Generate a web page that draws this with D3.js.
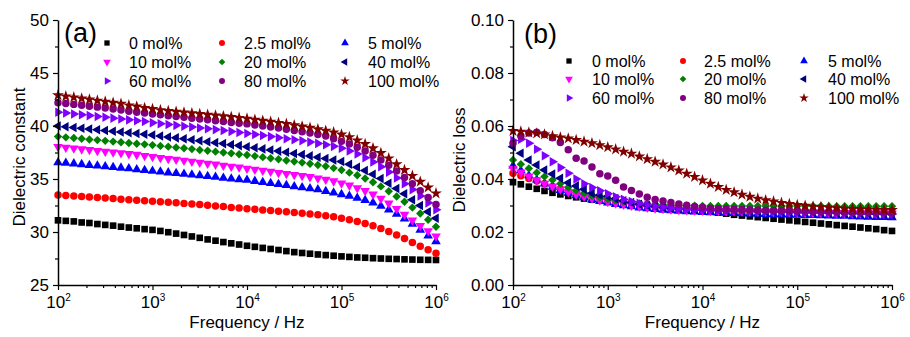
<!DOCTYPE html>
<html>
<head>
<meta charset="utf-8">
<script src="https://cdn.jsdelivr.net/npm/d3@7"></script>
<style>
  body { margin: 0; background: #fff; }
  text { font-family: "Liberation Sans", Arial, sans-serif; fill: #000; }
</style>
</head>
<body>
<div id="chart-wrapper"></div>
<script>

//////////////////////////////////////////////////
/////////////////// Data /////////////////////////
//////////////////////////////////////////////////

// measured frequencies (Hz), 12 points per decade
const freqHz = [100, 121, 147, 178, 215, 261, 316, 383, 464, 562, 681, 825,
  1000, 1212, 1468, 1778, 2154, 2610, 3162, 3831, 4642, 5623, 6813, 8254,
  10000, 12115, 14678, 17783, 21544, 26102, 31623, 38312, 46416, 56234, 68129, 82540,
  100000, 121153, 146780, 177828, 215443, 261016, 316228, 383119, 464159, 562341, 681292, 825404,
  1000000]

const seriesNames = ["0 mol%", "2.5 mol%", "5 mol%", "10 mol%", "20 mol%", "40 mol%", "60 mol%", "80 mol%", "100 mol%"]
const seriesColors = ["#000000", "#ff0000", "#0000ff", "#ff00ff", "#008000", "#000080", "#8000ff", "#800080", "#800000"]
const seriesSymbols = ["square", "circle", "triUp", "triDown", "diamond", "triLeft", "triRight", "circle", "star"]

// (a) dielectric constant
const eps0 = [31.1, 31.05, 31.0, 30.9, 30.85, 30.75, 30.67, 30.6, 30.5, 30.42, 30.35, 30.27,
  30.2, 30.1, 29.98, 29.85, 29.72, 29.58, 29.45, 29.3, 29.18, 29.05, 28.93, 28.82,
  28.7, 28.6, 28.5, 28.4, 28.3, 28.2, 28.1, 28.02, 27.95, 27.88, 27.82, 27.76,
  27.7, 27.65, 27.6, 27.57, 27.53, 27.5, 27.47, 27.45, 27.42, 27.4, 27.38, 27.37, 27.36]
const eps2_5 = [33.5, 33.45, 33.4, 33.35, 33.3, 33.25, 33.2, 33.15, 33.1, 33.05, 33.0, 32.95,
  32.9, 32.85, 32.8, 32.75, 32.7, 32.65, 32.6, 32.52, 32.46, 32.4, 32.32, 32.26,
  32.2, 32.14, 32.08, 32.02, 31.96, 31.9, 31.84, 31.77, 31.7, 31.62, 31.53, 31.43,
  31.3, 31.15, 31.0, 30.8, 30.58, 30.33, 30.05, 29.72, 29.38, 29.02, 28.66, 28.32, 28.0]
const eps5 = [36.55, 36.5, 36.45, 36.38, 36.3, 36.25, 36.18, 36.1, 36.05, 35.98, 35.9, 35.82,
  35.75, 35.68, 35.6, 35.55, 35.48, 35.4, 35.33, 35.25, 35.18, 35.1, 35.03, 34.95,
  34.9, 34.8, 34.7, 34.6, 34.5, 34.4, 34.3, 34.2, 34.1, 34.0, 33.85, 33.7,
  33.55, 33.4, 33.2, 33.0, 32.75, 32.45, 32.1, 31.7, 31.25, 30.75, 30.2, 29.65, 29.1]
const eps10 = [38.05, 37.98, 37.9, 37.82, 37.75, 37.67, 37.6, 37.52, 37.45, 37.37, 37.3, 37.2,
  37.1, 37.0, 36.92, 36.83, 36.75, 36.65, 36.55, 36.47, 36.38, 36.28, 36.18, 36.1,
  36.0, 35.9, 35.8, 35.7, 35.6, 35.5, 35.4, 35.3, 35.2, 35.08, 34.95, 34.8,
  34.6, 34.4, 34.15, 33.9, 33.55, 33.15, 32.7, 32.2, 31.65, 31.1, 30.6, 30.1, 29.6]
const eps20 = [39.0, 38.93, 38.87, 38.8, 38.73, 38.67, 38.6, 38.53, 38.47, 38.4, 38.33, 38.27,
  38.2, 38.12, 38.05, 37.97, 37.9, 37.82, 37.74, 37.66, 37.58, 37.5, 37.42, 37.34,
  37.26, 37.16, 37.06, 36.96, 36.86, 36.75, 36.65, 36.55, 36.44, 36.32, 36.2, 36.03,
  35.85, 35.6, 35.35, 35.05, 34.7, 34.3, 33.85, 33.35, 32.85, 32.3, 31.75, 31.15, 30.5]
const eps40 = [40.0, 39.93, 39.86, 39.79, 39.72, 39.65, 39.58, 39.51, 39.44, 39.37, 39.3, 39.22,
  39.15, 39.06, 38.97, 38.88, 38.79, 38.7, 38.61, 38.52, 38.43, 38.34, 38.24, 38.15,
  38.05, 37.95, 37.84, 37.74, 37.63, 37.52, 37.41, 37.3, 37.18, 37.06, 36.93, 36.8,
  36.65, 36.4, 36.1, 35.8, 35.45, 35.05, 34.6, 34.1, 33.6, 33.05, 32.5, 31.9, 31.3]
const eps60 = [41.3, 41.22, 41.14, 41.06, 40.98, 40.9, 40.82, 40.74, 40.66, 40.58, 40.5, 40.42,
  40.3, 40.22, 40.14, 40.06, 39.98, 39.9, 39.82, 39.74, 39.66, 39.57, 39.48, 39.39,
  39.3, 39.2, 39.1, 39.0, 38.9, 38.8, 38.7, 38.6, 38.48, 38.36, 38.23, 38.08,
  37.9, 37.65, 37.35, 37.0, 36.6, 36.15, 35.65, 35.1, 34.55, 34.0, 33.4, 32.75, 32.1]
const eps80 = [42.2, 42.12, 42.04, 41.96, 41.87, 41.78, 41.69, 41.6, 41.5, 41.4, 41.3, 41.22,
  41.13, 41.05, 40.97, 40.9, 40.82, 40.74, 40.66, 40.58, 40.5, 40.42, 40.34, 40.26,
  40.2, 40.1, 40.0, 39.9, 39.8, 39.7, 39.58, 39.46, 39.34, 39.2, 39.05, 38.8,
  38.55, 38.3, 38.0, 37.65, 37.25, 36.8, 36.3, 35.75, 35.15, 34.55, 33.9, 33.25, 32.6]
const eps100 = [42.9, 42.8, 42.7, 42.6, 42.5, 42.4, 42.3, 42.2, 42.1, 41.95, 41.85, 41.7,
  41.6, 41.5, 41.42, 41.35, 41.28, 41.2, 41.13, 41.06, 41.0, 40.92, 40.85, 40.77,
  40.7, 40.6, 40.5, 40.4, 40.3, 40.2, 40.08, 39.96, 39.84, 39.7, 39.55, 39.4,
  39.2, 38.95, 38.65, 38.3, 37.9, 37.45, 36.95, 36.4, 35.85, 35.3, 34.75, 34.2, 33.65]

// (b) dielectric loss
const loss0 = [0.0388, 0.0380, 0.0371, 0.0363, 0.0355, 0.0348, 0.0342, 0.0336, 0.0331, 0.0326, 0.0322, 0.0318,
  0.0315, 0.0312, 0.0309, 0.0306, 0.0303, 0.0300, 0.0297, 0.0294, 0.0291, 0.0288, 0.0286, 0.0283,
  0.0280, 0.0277, 0.0273, 0.0269, 0.0265, 0.0262, 0.0259, 0.0256, 0.0253, 0.0250, 0.0247, 0.0244,
  0.0241, 0.0238, 0.0235, 0.0232, 0.0229, 0.0226, 0.0223, 0.0220, 0.0217, 0.0214, 0.0211, 0.0207, 0.0204]
const loss2_5 = [0.0422, 0.0412, 0.0402, 0.0392, 0.0382, 0.0372, 0.0363, 0.0355, 0.0348, 0.0341, 0.0335, 0.0329,
  0.0323, 0.0318, 0.0313, 0.0309, 0.0305, 0.0301, 0.0298, 0.0295, 0.0292, 0.0290, 0.0288, 0.0286,
  0.0284, 0.0283, 0.0282, 0.0281, 0.0280, 0.0280, 0.0279, 0.0279, 0.0278, 0.0278, 0.0278, 0.0277,
  0.0277, 0.0277, 0.0276, 0.0276, 0.0276, 0.0276, 0.0275, 0.0275, 0.0275, 0.0275, 0.0275, 0.0275, 0.0275]
const loss5 = [0.0450, 0.0432, 0.0413, 0.0397, 0.0382, 0.0370, 0.0358, 0.0347, 0.0338, 0.0330, 0.0322, 0.0316,
  0.0310, 0.0305, 0.0300, 0.0296, 0.0292, 0.0289, 0.0286, 0.0283, 0.0281, 0.0279, 0.0277, 0.0276,
  0.0275, 0.0274, 0.0273, 0.0272, 0.0271, 0.0270, 0.0269, 0.0268, 0.0267, 0.0266, 0.0266, 0.0265,
  0.0264, 0.0263, 0.0263, 0.0262, 0.0261, 0.0260, 0.0260, 0.0259, 0.0258, 0.0257, 0.0256, 0.0256, 0.0255]
const loss10 = [0.0440, 0.0425, 0.0410, 0.0396, 0.0383, 0.0372, 0.0361, 0.0351, 0.0342, 0.0334, 0.0327, 0.0320,
  0.0314, 0.0309, 0.0304, 0.0300, 0.0296, 0.0293, 0.0290, 0.0288, 0.0286, 0.0284, 0.0283, 0.0282,
  0.0281, 0.0280, 0.0280, 0.0279, 0.0279, 0.0278, 0.0278, 0.0277, 0.0277, 0.0276, 0.0276, 0.0275,
  0.0275, 0.0274, 0.0274, 0.0273, 0.0273, 0.0272, 0.0272, 0.0271, 0.0271, 0.0271, 0.0270, 0.0270, 0.0270]
const loss20 = [0.0472, 0.0456, 0.0440, 0.0424, 0.0409, 0.0396, 0.0382, 0.0369, 0.0357, 0.0346, 0.0337, 0.0330,
  0.0324, 0.0319, 0.0315, 0.0311, 0.0308, 0.0306, 0.0304, 0.0302, 0.0301, 0.0300, 0.0299, 0.0299,
  0.0298, 0.0298, 0.0298, 0.0298, 0.0298, 0.0298, 0.0298, 0.0298, 0.0298, 0.0298, 0.0298, 0.0298,
  0.0298, 0.0298, 0.0298, 0.0298, 0.0297, 0.0297, 0.0297, 0.0297, 0.0297, 0.0297, 0.0297, 0.0297, 0.0297]
const loss40 = [0.0522, 0.0497, 0.0472, 0.0453, 0.0434, 0.0419, 0.0403, 0.0386, 0.0374, 0.0361, 0.0346, 0.0340,
  0.0335, 0.0326, 0.0318, 0.0311, 0.0305, 0.0300, 0.0296, 0.0293, 0.0290, 0.0288, 0.0286, 0.0285,
  0.0284, 0.0283, 0.0282, 0.0281, 0.0280, 0.0280, 0.0279, 0.0278, 0.0278, 0.0277, 0.0276, 0.0276,
  0.0275, 0.0274, 0.0274, 0.0273, 0.0272, 0.0272, 0.0271, 0.0270, 0.0270, 0.0269, 0.0268, 0.0267, 0.0266]
const loss60 = [0.0545, 0.0550, 0.0535, 0.0512, 0.0488, 0.0465, 0.0443, 0.0422, 0.0400, 0.0382, 0.0368, 0.0356,
  0.0344, 0.0333, 0.0323, 0.0315, 0.0308, 0.0302, 0.0297, 0.0293, 0.0290, 0.0287, 0.0285, 0.0283,
  0.0282, 0.0281, 0.0280, 0.0279, 0.0279, 0.0278, 0.0278, 0.0277, 0.0277, 0.0276, 0.0276, 0.0275,
  0.0275, 0.0274, 0.0274, 0.0273, 0.0272, 0.0272, 0.0271, 0.0271, 0.0270, 0.0270, 0.0269, 0.0269, 0.0268]
const loss80 = [0.0535, 0.0562, 0.0574, 0.0576, 0.0568, 0.0556, 0.0538, 0.0510, 0.0478, 0.0468, 0.0445, 0.0420,
  0.0411, 0.0395, 0.0370, 0.0357, 0.0343, 0.0331, 0.0323, 0.0317, 0.0311, 0.0306, 0.0301, 0.0296,
  0.0293, 0.0290, 0.0288, 0.0287, 0.0286, 0.0285, 0.0284, 0.0283, 0.0282, 0.0281, 0.0281, 0.0280,
  0.0279, 0.0279, 0.0278, 0.0277, 0.0277, 0.0276, 0.0275, 0.0275, 0.0274, 0.0274, 0.0273, 0.0273, 0.0272]
const loss100 = [0.0581, 0.0579, 0.0575, 0.0572, 0.0568, 0.0562, 0.0557, 0.0553, 0.0547, 0.0541, 0.0535, 0.0528,
  0.0520, 0.0512, 0.0503, 0.0496, 0.0485, 0.0475, 0.0465, 0.0455, 0.0444, 0.0432, 0.0420, 0.0408,
  0.0395, 0.0382, 0.0370, 0.0359, 0.0350, 0.0341, 0.0333, 0.0326, 0.0320, 0.0315, 0.0310, 0.0306,
  0.0302, 0.0299, 0.0296, 0.0294, 0.0292, 0.0290, 0.0288, 0.0287, 0.0286, 0.0285, 0.0284, 0.0283, 0.0283]

// axis ticks
const freqTicks = [1e2, 1e3, 1e4, 1e5, 1e6]
const freqTickExp = ["2", "3", "4", "5", "6"]
const epsTicks = [25, 30, 35, 40, 45, 50]
const epsMinor = [27.5, 32.5, 37.5, 42.5, 47.5]
const lossTicks = [0.00, 0.02, 0.04, 0.06, 0.08, 0.10]
const lossMinor = [0.01, 0.03, 0.05, 0.07, 0.09]

//////////////////////////////////////////////////
/////////////////// Constants ////////////////////
//////////////////////////////////////////////////

const width = 910
const height = 337
const plotTop = 20
const plotBottom = 285
const fontTick = 17
const fontLegend = 16

const svg = d3.select("#chart-wrapper")
  .append("svg")
    .attr("width", width)
    .attr("height", height)

// symbol path + rotation for each marker kind
const markerShape = (kind, size) => {
  if (kind === "square") return { d: d3.symbol(d3.symbolSquare, size)(), rot: 0 }
  if (kind === "circle") return { d: d3.symbol(d3.symbolCircle, size)(), rot: 0 }
  if (kind === "diamond") return { d: d3.symbol(d3.symbolSquare, size * 0.8)(), rot: 45 }
  if (kind === "star") return { d: d3.symbol(d3.symbolStar, size)(), rot: 0 }
  const rot = { triUp: 0, triDown: 180, triLeft: -90, triRight: 90 }[kind]
  return { d: d3.symbol(d3.symbolTriangle, size * 0.9)(), rot: rot }
}

//////////////////////////////////////////////////
/////////////////// Panel ////////////////////////
//////////////////////////////////////////////////

function drawPanel(opt) {
  const g = svg.append("g")

  const xScale = d3.scaleLog()
    .domain([1e2, 1e6])
    .range([opt.left, opt.right])
  const yScale = d3.scaleLinear()
    .domain(opt.yDomain)
    .range([plotBottom, plotTop])

  // minor log ticks 2..9 per decade
  const xMinor = []
  for (let dec = 2; dec < 6; dec++) {
    for (let m = 2; m < 10; m++) xMinor.push(m * Math.pow(10, dec))
  }

  // series markers
  opt.series.forEach((vals, s) => {
    const shape = markerShape(seriesSymbols[s], opt.markerSize)
    g.append("g")
      .selectAll("path")
      .data(freqHz.map((f, i) => [f, vals[i]]))
      .join("path")
        .attr("d", shape.d)
        .attr("transform", d => `translate(${xScale(d[0])},${yScale(d[1])}) rotate(${shape.rot})`)
        .attr("fill", seriesColors[s])
  })

  // x axis
  const gx = g.append("g")
    .attr("transform", `translate(0,${plotBottom})`)
  gx.append("g")
    .call(d3.axisBottom(xScale).tickValues(xMinor).tickSize(3).tickFormat("").tickSizeOuter(0))
    .call(a => a.select(".domain").remove())
  gx.append("g")
    .call(d3.axisBottom(xScale).tickValues(freqTicks).tickSize(5).tickSizeOuter(0))
    .call(a => a.select(".domain").attr("stroke-width", 1.5))
    .call(a => a.selectAll("text").each(function(d, i) {
      const t = d3.select(this)
      t.text(null)
        .attr("y", 23).attr("dy", null)
        .attr("font-size", fontTick)
        .attr("font-family", null)
      t.append("tspan").text("10")
      t.append("tspan").text(freqTickExp[i]).attr("font-size", 10).attr("dy", -7.5)
    }))
  gx.selectAll("line").attr("stroke-width", 1.2)

  // y axis
  const gy = g.append("g")
    .attr("transform", `translate(${opt.left},0)`)
  gy.append("g")
    .call(d3.axisLeft(yScale).tickValues(opt.yMinor).tickSize(3).tickFormat("").tickSizeOuter(0))
    .call(a => a.select(".domain").remove())
  gy.append("g")
    .call(d3.axisLeft(yScale).tickValues(opt.yTicks).tickSize(5).tickPadding(4)
      .tickFormat(opt.yFormat).tickSizeOuter(0))
    .call(a => a.select(".domain").attr("stroke-width", 1.5))
    .call(a => a.selectAll("text").attr("font-size", fontTick).attr("font-family", null))
  gy.selectAll("line").attr("stroke-width", 1.2)

  // axis titles
  g.append("text")
    .attr("x", (opt.left + opt.right) / 2)
    .attr("y", 328)
    .attr("text-anchor", "middle")
    .attr("font-size", fontTick)
    .text("Frequency / Hz")
  g.append("text")
    .attr("transform", `translate(${opt.yTitleX},${opt.yTitleY}) rotate(-90)`)
    .attr("text-anchor", "middle")
    .attr("font-size", fontTick)
    .text(opt.yTitle)

  // panel tag
  g.append("text")
    .attr("x", opt.tag[1])
    .attr("y", opt.tag[2])
    .attr("font-size", 27)
    .text(opt.tag[0])

  // legend, 3 x 3 row-major
  seriesNames.forEach((name, s) => {
    const col = s % 3
    const row = Math.floor(s / 3)
    const cy = opt.legRows[row]
    const shape = markerShape(seriesSymbols[s], 28)
    g.append("path")
      .attr("d", shape.d)
      .attr("transform", `translate(${opt.legSym[col]},${cy}) rotate(${shape.rot})`)
      .attr("fill", seriesColors[s])
    g.append("text")
      .attr("x", opt.legText[col])
      .attr("y", cy)
      .attr("dy", "0.36em")
      .attr("font-size", fontLegend)
      .text(name)
  })
}

drawPanel({
  left: 58, right: 436,
  yDomain: [25, 50], yTicks: epsTicks, yMinor: epsMinor, yFormat: d3.format("d"),
  series: [eps0, eps2_5, eps5, eps10, eps20, eps40, eps60, eps80, eps100],
  markerSize: 44,
  yTitle: "Dielectric constant", yTitleX: 25, yTitleY: 157,
  tag: ["(a)", 64, 42],
  legRows: [43, 62, 81], legSym: [107, 222, 345], legText: [129, 244, 368]
})

drawPanel({
  left: 513, right: 892,
  yDomain: [0, 0.10], yTicks: lossTicks, yMinor: lossMinor, yFormat: d3.format(".2f"),
  series: [loss0, loss2_5, loss5, loss10, loss20, loss40, loss60, loss80, loss100],
  markerSize: 44,
  yTitle: "Dielectric loss", yTitleX: 465, yTitleY: 160,
  tag: ["(b)", 524, 43],
  legRows: [61, 79, 98], legSym: [569, 683, 804], legText: [592, 704, 828]
})

</script>
</body>
</html>
